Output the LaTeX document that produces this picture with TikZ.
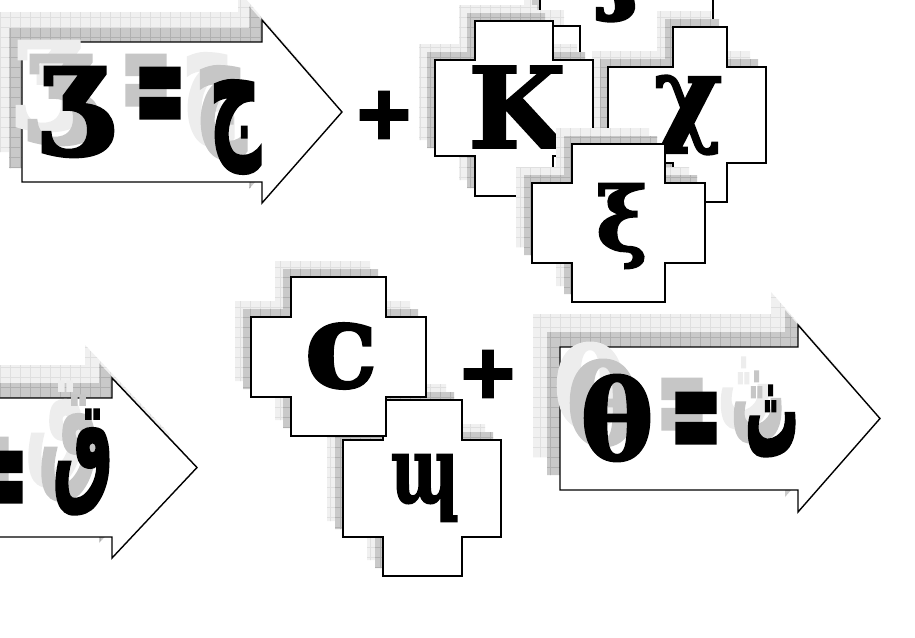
\documentclass[tikz,border=0pt]{standalone}
\usepackage{fontspec}
\setmainfont{DejaVu Serif}[BoldFeatures={FakeBold=2}]
\newfontfamily\arabicfont{DejaVu Sans}[Script=Arabic,BoldFeatures={FakeBold=2}]
\newfontfamily\signfont{DejaVu Sans}[BoldFeatures={FakeBold=5}]
\TeXXeTstate=1
\usetikzlibrary{patterns}

\pgfdeclarepatternformonly{shadegrid}{\pgfqpoint{-1pt}{-1pt}}{\pgfqpoint{11pt}{11pt}}{\pgfqpoint{10pt}{10pt}}%
{\pgfsetlinewidth{0.5pt}\pgfpathmoveto{\pgfqpoint{0pt}{0pt}}\pgfpathlineto{\pgfqpoint{10pt}{0pt}}%
\pgfpathmoveto{\pgfqpoint{0pt}{0pt}}\pgfpathlineto{\pgfqpoint{0pt}{10pt}}\pgfusepath{stroke}}

% cross: band x1..x4, arm x2..x3, y1 top, y2..y3 band, y4 bottom
\newcommand{\crosspath}[8]{(#2,#5) -- (#3,#5) -- (#3,#6) -- (#4,#6) -- (#4,#7) -- (#3,#7) -- (#3,#8) -- (#2,#8) -- (#2,#7) -- (#1,#7) -- (#1,#6) -- (#2,#6) -- cycle}
% arrow: left, head base, tip, body top/bottom, head top/bottom
\newcommand{\arrowpath}[7]{(#1,#4) -- (#2,#4) -- (#2,#6) -- (#3,{(#4+#5)/2}) -- (#2,#7) -- (#2,#5) -- (#1,#5) -- cycle}
\newcommand{\arab}[3]{\scalebox{#1}[#2]{\beginR #3\endR}}
\newcommand{\eqsign}{\scalebox{0.85}[1.9]{=}}

\tikzset{
  lightshade/.style={fill=gray!12, postaction={pattern=shadegrid, pattern color=gray!25}},
  darkshade/.style={fill=gray!42, postaction={pattern=shadegrid, pattern color=gray!62}},
  outline/.style={draw=black, fill=white, line width=1.4pt, line join=miter},
  glyph/.style={inner sep=0pt, font=\bfseries\fontsize{#1}{#1}\selectfont},
  glyph/.default=100,
  arabglyph/.style={inner sep=0pt, font=\arabicfont\bfseries\fontsize{#1}{#1}\selectfont},
  sign/.style={inner sep=0pt, font=\signfont\bfseries\fontsize{#1}{#1}\selectfont},
  ghostdark/.style={text=gray!45},
  ghostlight/.style={text=gray!14},
}

\begin{document}
\begin{tikzpicture}[x=1pt,y=-1pt]
\useasboundingbox (0,0) rectangle (915,637);
\clip (0,0) rectangle (915,637);
\fill[white] (0,0) rectangle (915,637);

%% first arrow
\fill[lightshade,shift={(-24,-30)}] \arrowpath{22}{262}{342}{42}{182}{20}{203};
\fill[darkshade,shift={(-13,-14)}] \arrowpath{22}{262}{342}{42}{182}{20}{203};
\draw[outline] \arrowpath{22}{262}{342}{42}{182}{20}{203};
\node [glyph=125,ghostlight] (ezh-l) at (48,86) {ʒ};
\node [glyph=125,ghostdark] (ezh-d) at (60,100) {ʒ};
\node [glyph=125] (ezh) at (74,112) {ʒ};
\node [sign=72,ghostdark] (eq1-d) at (146,90) {\eqsign};
\node [sign=72] (eq1) at (160,103) {\eqsign};
\node [arabglyph=90,ghostlight] (jim-l) at (208,100) {\arab{0.8}{1.55}{ج}};
\node [arabglyph=90,ghostdark] (jim-d) at (221,113) {\arab{0.8}{1.55}{ج}};
\node [arabglyph=90] (jim) at (235,127) {\arab{0.8}{1.55}{ج}};

\node [sign=72] (plus1) at (384,115) {+};

%% crosses at the top
\fill[lightshade,shift={(-16,-16)}] (540,-20) rectangle (713,65);
\fill[darkshade,shift={(-8,-8)}] (540,-20) rectangle (713,65);
\draw[outline] (540,-20) rectangle (713,65);
\node [glyph=105] (esh) at (622,-30) {ʃ};

\fill[lightshade,shift={(-16,-16)}] (500,26) rectangle (580,110);
\draw[outline] (500,26) rectangle (580,110);

\fill[lightshade,shift={(-16,-16)}] \crosspath{608}{673}{727}{766}{27}{67}{163}{202};
\fill[darkshade,shift={(-8,-8)}] \crosspath{608}{673}{727}{766}{27}{67}{163}{202};
\draw[outline] \crosspath{608}{673}{727}{766}{27}{67}{163}{202};
\node [glyph=105] (chi) at (688,115) {χ};

\fill[lightshade,shift={(-16,-16)}] \crosspath{435}{475}{553}{593}{21}{60}{156}{196};
\fill[darkshade,shift={(-8,-8)}] \crosspath{435}{475}{553}{593}{21}{60}{156}{196};
\draw[outline] \crosspath{435}{475}{553}{593}{21}{60}{156}{196};
\node [glyph=112] (kay) at (517,107) {K};

\fill[lightshade,shift={(-16,-16)}] \crosspath{532}{572}{665}{705}{144}{183}{263}{302};
\fill[darkshade,shift={(-8,-8)}] \crosspath{532}{572}{665}{705}{144}{183}{263}{302};
\draw[outline] \crosspath{532}{572}{665}{705}{144}{183}{263}{302};
\node [glyph=88] (xi) at (622,226) {ξ};

%% crosses below
\fill[lightshade,shift={(-16,-16)}] \crosspath{343}{383}{462}{501}{400}{440}{537}{576};
\fill[darkshade,shift={(-8,-8)}] \crosspath{343}{383}{462}{501}{400}{440}{537}{576};
\draw[outline] \crosspath{343}{383}{462}{501}{400}{440}{537}{576};
\node [glyph=92] (wy) at (425,488) {\scalebox{0.7}[1]{ɰ}};

\fill[lightshade,shift={(-16,-16)}] \crosspath{251}{291}{386}{426}{277}{317}{397}{436};
\fill[darkshade,shift={(-8,-8)}] \crosspath{251}{291}{386}{426}{277}{317}{397}{436};
\draw[outline] \crosspath{251}{291}{386}{426}{277}{317}{397}{436};
\node [glyph=120] (cee) at (341,356) {c};

\node [sign=72] (plus2) at (488,374) {+};

%% arrow on the right
\fill[lightshade,shift={(-27,-33)}] \arrowpath{560}{798}{880}{347}{490}{325}{512};
\fill[darkshade,shift={(-13,-15)}] \arrowpath{560}{798}{880}{347}{490}{325}{512};
\draw[outline] \arrowpath{560}{798}{880}{347}{490}{325}{512};
\node [glyph=110,ghostlight] (theta-l) at (590,386) {θ};
\node [glyph=110,ghostdark] (theta-d) at (603,403) {θ};
\node [glyph=110] (theta) at (617,418) {θ};
\node [sign=72,ghostdark] (eq2-d) at (682,414) {\eqsign};
\node [sign=72] (eq2) at (696,428) {\eqsign};
\node [arabglyph=90,ghostlight] (tha-l) at (745,393) {\arab{0.6}{1.45}{ث}};
\node [arabglyph=90,ghostdark] (tha-d) at (758,407) {\arab{0.6}{1.45}{ث}};
\node [arabglyph=90] (tha) at (772,421) {\arab{0.6}{1.45}{ث}};

%% arrow on the left, cut by the edge
\fill[lightshade,shift={(-27,-33)}] \arrowpath{-140}{112}{197}{398}{537}{378}{558};
\fill[darkshade,shift={(-13,-15)}] \arrowpath{-140}{112}{197}{398}{537}{378}{558};
\draw[outline] \arrowpath{-140}{112}{197}{398}{537}{378}{558};
\node [sign=72,ghostdark] (eq3-d) at (-12,473) {\eqsign};
\node [sign=72] (eq3) at (2,487) {\eqsign};
\node [arabglyph=95,ghostlight] (qaf-l) at (56,434) {\arab{0.72}{1.3}{ق}};
\node [arabglyph=95,ghostdark] (qaf-d) at (69,448) {\arab{0.72}{1.3}{ق}};
\node [arabglyph=95] (qaf) at (83,462) {\arab{0.72}{1.3}{ق}};
\end{tikzpicture}
\end{document}
